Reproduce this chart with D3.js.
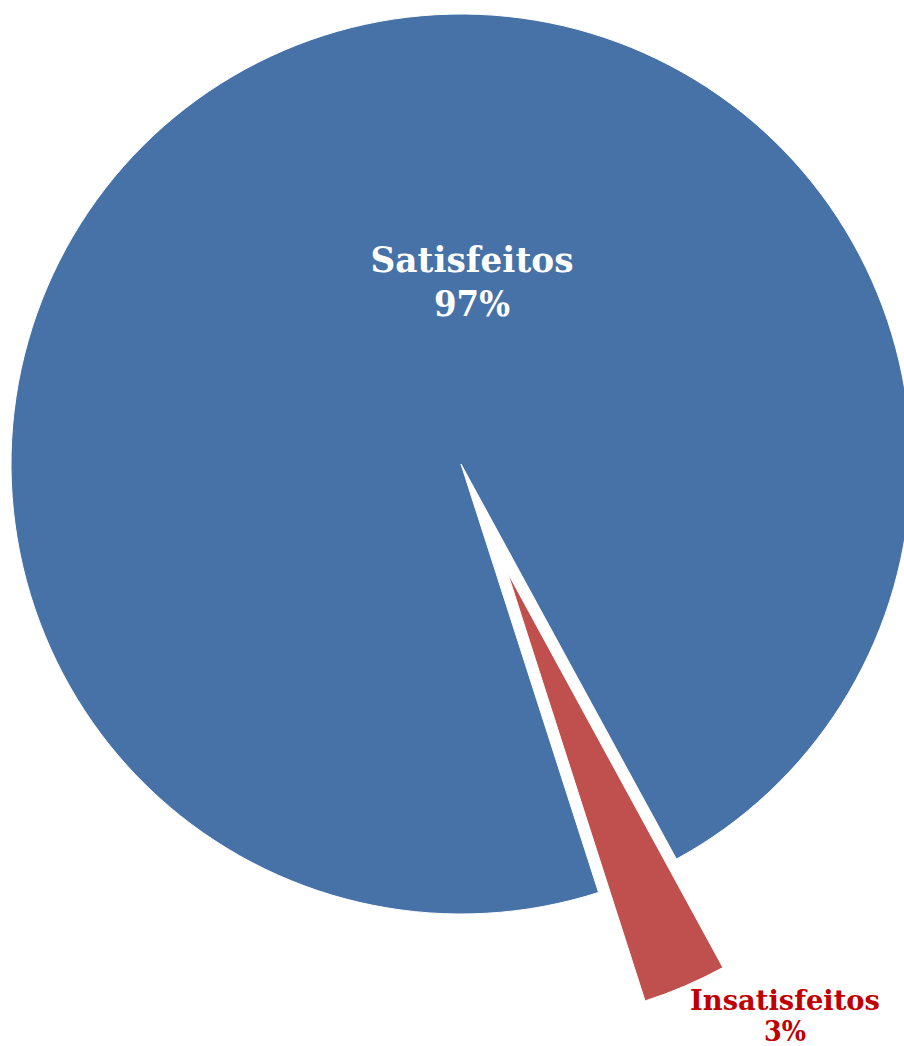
<!DOCTYPE html>
<html>
<head>
<meta charset="utf-8">
<script src="https://cdn.jsdelivr.net/npm/d3@7"></script>
<style>
  html, body { margin: 0; padding: 0; background: #fff; }
  svg { display: block; }
</style>
</head>
<body>
<svg id="pie" width="904" height="1046"></svg>
<script>
// data
const categories = ["Satisfeitos", "Insatisfeitos"];
const values     = [97, 3];
const percentLabels = ["97%", "3%"];

const colors     = ["#4672A7", "#C0504D"];
const textColors = ["#FFFFFF", "#C00000"];

const svg = d3.select("#pie");
const cx = 461, cy = 464;
const radius = 450;
const explode = [0, 118];     // pull-out distance for each slice

const data = categories.map((c, i) => ({ name: c, value: values[i], pct: percentLabels[i], i }));

const pie = d3.pie()
  .sort(null)
  .value(d => d.value)
  .startAngle(162.2 * Math.PI / 180)
  .endAngle((162.2 + 360) * Math.PI / 180);

const arc = d3.arc().innerRadius(0).outerRadius(radius);

const g = svg.append("g")
  .attr("transform", `translate(${cx},${cy})`);

const arcs = pie(data);

function offset(d) {
  const mid = (d.startAngle + d.endAngle) / 2;
  const e = explode[d.data.i];
  return [Math.sin(mid) * e, -Math.cos(mid) * e];
}

g.selectAll("path.slice")
  .data(arcs)
  .enter().append("path")
  .attr("class", "slice")
  .attr("transform", d => `translate(${offset(d)})`)
  .attr("d", arc)
  .attr("fill", d => colors[d.data.i])
  .attr("stroke", "#fff")
  .attr("stroke-width", 1);

// label positions relative to pie centre (as placed in original)
const labelPos = [[11, -192], [324, 546]];
const labelSize = [36, 27];
const nameWidth = [203, 190];
const pctWidth  = [76, 42];
const lineGap   = [44, 31];

arcs.forEach(d => {
  const i = d.data.i;
  const t = g.append("text")
    .attr("text-anchor", "middle")
    .attr("fill", textColors[i])
    .attr("font-family", "'DejaVu Serif', 'Liberation Serif', serif")
    .attr("font-weight", "bold")
    .attr("font-size", labelSize[i] + "px");
  t.append("tspan")
    .attr("x", labelPos[i][0])
    .attr("y", labelPos[i][1])
    .attr("textLength", nameWidth[i])
    .attr("lengthAdjust", "spacingAndGlyphs")
    .text(d.data.name);
  t.append("tspan")
    .attr("x", labelPos[i][0])
    .attr("y", labelPos[i][1] + lineGap[i])
    .attr("textLength", pctWidth[i])
    .attr("lengthAdjust", "spacingAndGlyphs")
    .text(d.data.pct);
});
</script>
</body>
</html>
